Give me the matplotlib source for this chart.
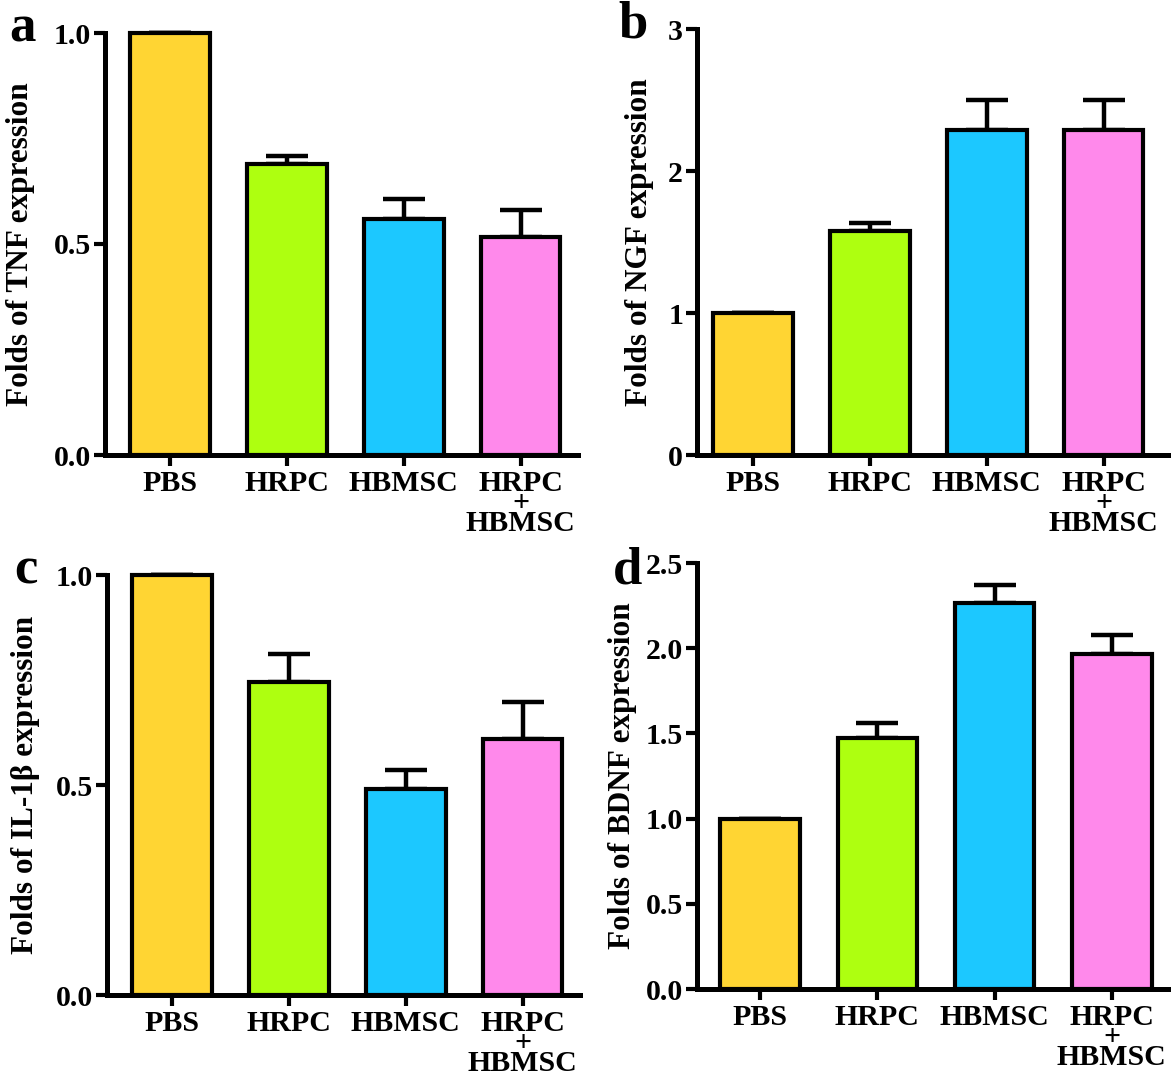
import matplotlib
matplotlib.use("Agg")
import matplotlib.pyplot as plt
import numpy as np

plt.rcParams['font.family'] = ['Liberation Serif', 'DejaVu Serif']
plt.rcParams['font.weight'] = 'bold'

categories = ["PBS", "HRPC", "HBMSC", "HRPC\n+\nHBMSC"]
colors = ["#FFD533", "#AEFF10", "#1CC8FF", "#FF89EB"]

tnf_mean = [1.0, 0.69, 0.559, 0.517]
tnf_err = [0.0, 0.018, 0.048, 0.064]
ngf_mean = [1.0, 1.577, 2.29, 2.29]
ngf_err = [0.0, 0.06, 0.21, 0.21]
il1b_mean = [1.0, 0.746, 0.49, 0.609]
il1b_err = [0.0, 0.067, 0.046, 0.088]
bdnf_mean = [1.0, 1.475, 2.266, 1.967]
bdnf_err = [0.0, 0.088, 0.105, 0.113]

panels = [
    dict(letter="a", mean=tnf_mean, err=tnf_err, ylabel="Folds of TNF expression",
         ylim=(0, 1.0), yticks=[0.0, 0.5, 1.0], fmt="{:.1f}",
         rect=[105, 33, 578, 455], xlim=(-0.556, 3.49),
         lx=22, ly=41, labx=-0.148),
    dict(letter="b", mean=ngf_mean, err=ngf_err, ylabel="Folds of NGF expression",
         ylim=(0, 3.0), yticks=[0, 1, 2, 3], fmt="{:.0f}",
         rect=[697, 29, 1168, 455], xlim=(-0.48, 3.55),
         lx=633, ly=38, labx=-0.091),
    dict(letter="c", mean=il1b_mean, err=il1b_err, ylabel="Folds of IL-1β expression",
         ylim=(0, 1.0), yticks=[0.0, 0.5, 1.0], fmt="{:.1f}",
         rect=[107, 575, 580, 995], xlim=(-0.556, 3.49),
         lx=26, ly=584, labx=-0.142),
    dict(letter="d", mean=bdnf_mean, err=bdnf_err, ylabel="Folds of BDNF expression",
         ylim=(0, 2.5), yticks=[0.0, 0.5, 1.0, 1.5, 2.0, 2.5], fmt="{:.1f}",
         rect=[697, 563, 1168, 989], xlim=(-0.54, 3.48),
         lx=628, ly=584, labx=-0.127),
]

W, H = 1176, 1085
fig = plt.figure(figsize=(W / 100, H / 100), dpi=100)

for p in panels:
    x0, y0, x1, y1 = p["rect"]
    ax = fig.add_axes([x0 / W, 1 - y1 / H, (x1 - x0) / W, (y1 - y0) / H])
    x = np.arange(len(categories))
    lower = np.zeros(len(categories))
    ax.errorbar(x, p["mean"], yerr=[lower, p["err"]], fmt="none", ecolor="black",
                elinewidth=3.2, capsize=15, capthick=3.2, zorder=1)
    ax.bar(x, p["mean"], width=0.68, color=colors, edgecolor="black",
           linewidth=3.0, zorder=2)
    ax.set_xlim(*p["xlim"])
    ax.set_ylim(*p["ylim"])
    ax.set_yticks(p["yticks"])
    ax.set_yticklabels([p["fmt"].format(v) for v in p["yticks"]])
    ax.set_xticks(x)
    ax.set_xticklabels(categories, linespacing=0.66, va="top")
    for s in ["top", "right"]:
        ax.spines[s].set_visible(False)
    for s in ["left", "bottom"]:
        ax.spines[s].set_linewidth(3.6)
        ax.spines[s].set_capstyle("projecting")
    ax.tick_params(axis="both", width=3.0, length=8, direction="out")
    ax.tick_params(axis="y", pad=2, labelsize=21.5)
    ax.tick_params(axis="x", pad=3, labelsize=21.5)
    for lab in ax.get_xticklabels() + ax.get_yticklabels():
        lab.set_fontweight("bold")
    ax.set_ylabel(p["ylabel"], fontsize=22.5, fontweight="bold")
    ax.yaxis.set_label_coords(p["labx"], 0.5)
    for c in ax.get_children():
        try:
            c.set_clip_on(False)
        except Exception:
            pass
    fig.text(p["lx"] / W, 1 - p["ly"] / H, p["letter"], fontsize=38, fontweight="bold",
             ha="center", va="baseline")

fig.savefig("out.png", dpi=100)
